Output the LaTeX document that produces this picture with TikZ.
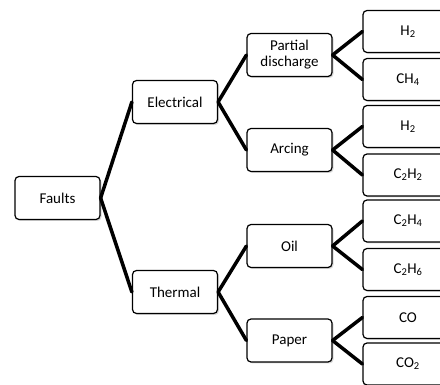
\documentclass[tikz,border=0pt]{standalone}
\usepackage{fontspec}
\setmainfont{Carlito}
\usepackage{tikz}
\usetikzlibrary{positioning,shadows}
\tikzset{
box/.style={draw, rounded corners=4pt, line width=1.2pt, fill=white, minimum width=85pt, minimum height=43pt, inner sep=0pt, align=center, font=\fontsize{15}{16}\selectfont, drop shadow={opacity=0.3, shadow xshift=1.5pt, shadow yshift=-1.5pt}},
leaf/.style={box, minimum width=90pt, minimum height=42pt},
conn/.style={line width=3.5pt, line cap=round},
}

\begin{document}
\begin{tikzpicture}[on grid]
    \clip (0,0) rectangle (440pt,-385pt);
    \node[box] (faults) at (57.5pt,-198pt) {Faults};
    \node[box] (elec) [above right=96pt and 117.5pt of faults] {Electrical};
    \node[box] (therm) [below right=94pt and 117.5pt of faults] {Thermal};
    \node[box] (pd) [above right=47pt and 114.5pt of elec] {Partial\\discharge};
    \node[box] (arc) [below right=48pt and 114.5pt of elec] {Arcing};
    \node[box] (oil) [above right=46pt and 114.5pt of therm] {Oil};
    \node[box] (paper) [below right=48.5pt and 114.5pt of therm] {Paper};
    % gases
    \node[leaf] (h2a) [above right=23.5pt and 118.5pt of pd] {H\textsubscript{2}};
    \node[leaf] (ch4) [below right=24.5pt and 118.5pt of pd] {CH\textsubscript{4}};
    \node[leaf] (h2b) [above right=23.5pt and 118.5pt of arc] {H\textsubscript{2}};
    \node[leaf] (c2h2) [below right=25pt and 118.5pt of arc] {C\textsubscript{2}H\textsubscript{2}};
    \node[leaf] (c2h4) [above right=25pt and 118.5pt of oil] {C\textsubscript{2}H\textsubscript{4}};
    \node[leaf] (c2h6) [below right=23.5pt and 118.5pt of oil] {C\textsubscript{2}H\textsubscript{6}};
    \node[leaf] (co) [above right=23pt and 118.5pt of paper] {CO};
    \node[leaf] (co2) [below right=23.5pt and 118.5pt of paper] {CO\textsubscript{2}};
    \path[conn]
    (faults.east) edge (elec.west)
    (faults.east) edge (therm.west)
    (elec.east) edge (pd.west)
    (elec.east) edge (arc.west)
    (therm.east) edge (oil.west)
    (therm.east) edge (paper.west)
    (pd.east) edge (h2a.west)
    (pd.east) edge (ch4.west)
    (arc.east) edge (h2b.west)
    (arc.east) edge (c2h2.west)
    (oil.east) edge (c2h4.west)
    (oil.east) edge (c2h6.west)
    (paper.east) edge (co.west)
    (paper.east) edge (co2.west);
\end{tikzpicture}
\end{document}
